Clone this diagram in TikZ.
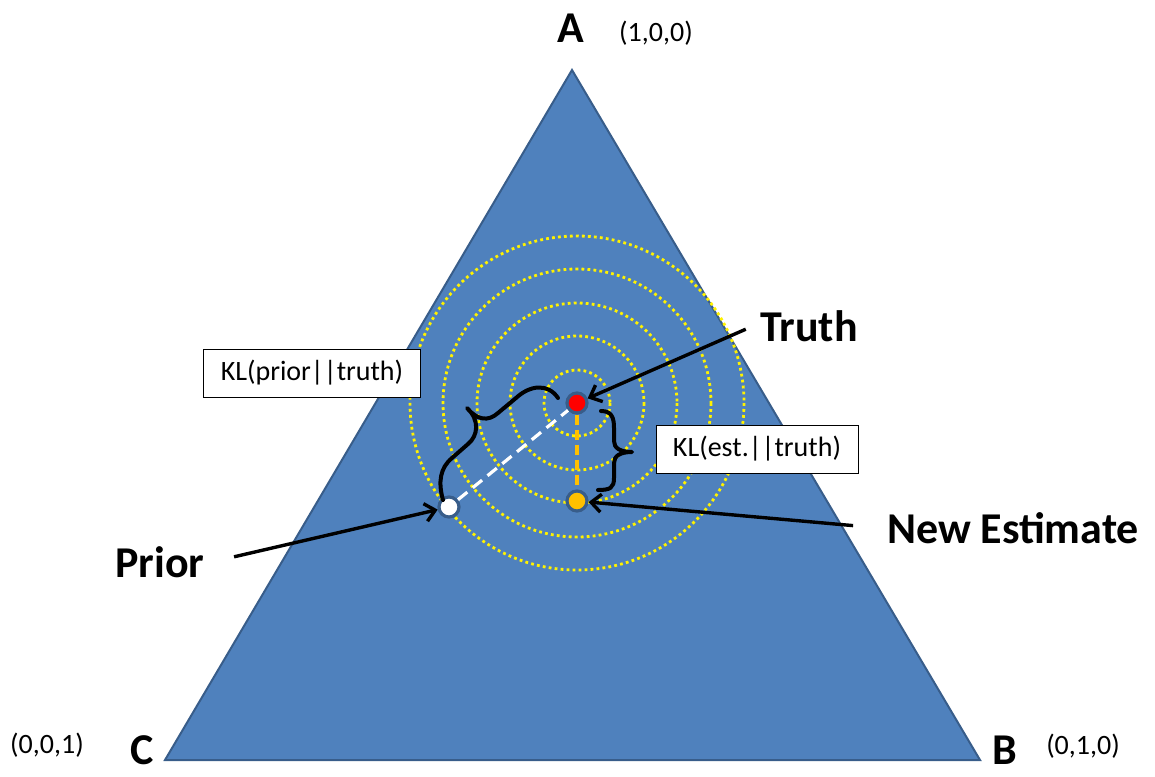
\documentclass[tikz,border=0pt]{standalone}
\usepackage{fontspec}
\setmainfont{Carlito}
\usepackage{xcolor}
\usepackage{tikz}
\usetikzlibrary{arrows.meta, positioning}

\definecolor{simplexblue}{HTML}{4F81BD}
\definecolor{simplexedge}{HTML}{385D8A}
\definecolor{estorange}{HTML}{FFC000}

\begin{document}
\begin{tikzpicture}[
    x=0.5pt, y=-0.5pt,
    vertex/.style={inner sep=0.5pt, font=\bfseries\fontsize{22}{26}\selectfont},
    bary/.style={font=\fontsize{14}{17}\selectfont},
    callout/.style={font=\bfseries\fontsize{22}{26}\selectfont},
    klbox/.style={rectangle, draw=black, fill=white, line width=0.5pt, minimum height=24pt, align=center, font=\fontsize{14}{17}\selectfont},
    dot/.style={circle, inner sep=0pt, minimum size=10pt, draw=simplexedge, line width=1.6pt},
    ring/.style={draw=yellow, line width=1.4pt, dash pattern=on 1.4pt off 1.6pt},
    pointer/.style={line width=1.7pt, -{Straight Barb[length=5pt, width=9pt]}},
    curly/.style={line width=2pt, line join=round, line cap=round}
]

\useasboundingbox (0,0) rectangle (1155,776);

% the simplex
\coordinate (A) at (572,70);
\coordinate (B) at (980,760);
\coordinate (C) at (165,760);
\draw[simplexedge, fill=simplexblue, line width=1pt] (A) -- (B) -- (C) -- cycle;

\foreach \r in {33,67,100,134,167}
  \draw[ring] (577,403) circle[radius=\r];

\node[vertex] (lblA) at (571,28) {A};
\node[bary] (coordA) at (656,33) {(1,0,0)};
\node[vertex] (lblC) at (142,750) {C};
\node[bary] (coordC) at (47,745) {(0,0,1)};
\node[vertex] (lblB) at (1005,750) {B};
\node[bary] (coordB) at (1083,746) {(0,1,0)};

% points
\node[dot, fill=red] (truth) at (577,403) {};
\node[dot, fill=estorange] (est) at (577,501) {};
\node[dot, fill=white] (prior) at (449,507) {};

\draw[white, line width=1.6pt, dash pattern=on 6pt off 3.5pt] (prior) -- (truth);
\draw[estorange, line width=1.6pt, dash pattern=on 5pt off 2.5pt] (truth) -- (est);

% braces
\draw[curly] (443,500) .. controls (438,482) and (440,468) .. (452,458) -- (468,444)
  .. controls (478,436) and (480,420) .. (467,408)
  .. controls (477,420) and (488,422) .. (498,413) -- (516,398)
  .. controls (530,385) and (548,383) .. (558,398);
\draw[curly] (601,411) .. controls (612,411) and (614,418) .. (614,428) -- (614,441)
  .. controls (614,448) and (620,452) .. (632,452)
  .. controls (620,452) and (614,456) .. (614,463) -- (614,478)
  .. controls (614,488) and (610,490) .. (598,490);

\node[klbox, minimum width=108.5pt] (klprior) at (312,373) {KL(prior||truth)};
\node[klbox, minimum width=101pt] (klest) at (757,449) {KL(est.||truth)};

% callouts
\node[callout] (truthlbl) at (809,326) {Truth};
\node[callout] (estlbl) at (1013,528) {New Estimate};
\node[callout] (priorlbl) at (160,562) {Prior};

\draw[pointer, shorten <=4pt] (truthlbl.west) -- (truth);
\draw[pointer, shorten <=13.5pt] (estlbl.west) -- (est);
\draw[pointer, shorten <=11.5pt] (priorlbl.east) -- (prior);

\end{tikzpicture}
\end{document}
